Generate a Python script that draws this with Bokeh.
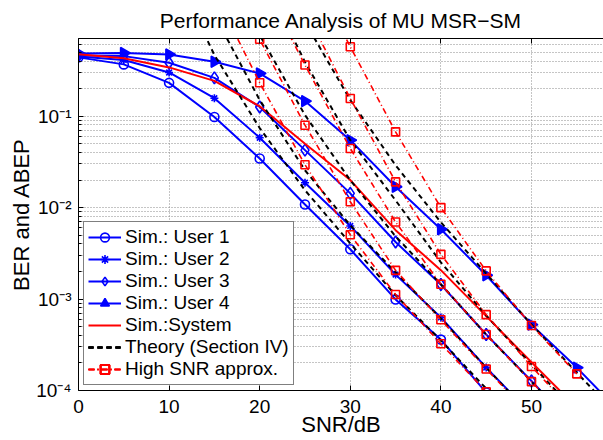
import math
from bokeh.plotting import figure
from bokeh.models import LinearAxis, FixedTicker, CustomJSTickFormatter
from bokeh.embed import file_html
from bokeh.resources import INLINE

# ---------------- data ----------------
user1_snr = [0, 5, 10, 15, 20, 25, 30, 35, 40, 45]
user1_ber = [0.439, 0.368, 0.231, 0.098, 0.0344, 0.0108, 0.0035, 0.00099, 0.00036, 0.000095]

user2_snr = [0, 5, 10, 15, 20, 25, 30, 35, 40, 45, 50]
user2_ber = [0.45, 0.41, 0.30, 0.157, 0.058, 0.0187, 0.0063, 0.00185, 0.00063, 0.000178, 0.000055]

user3_snr = [0, 5, 10, 15, 20, 25, 30, 35, 40, 45, 50, 55]
user3_ber = [0.46, 0.453, 0.383, 0.262, 0.126, 0.0425, 0.0143, 0.0042, 0.00144, 0.00041, 0.000127, 0.000038]

user4_snr = [0, 5, 10, 15, 20, 25, 30, 35, 40, 45, 50, 55, 60]
user4_ber = [0.485, 0.49, 0.473, 0.393, 0.293, 0.146, 0.0546, 0.0169, 0.0058, 0.00182, 0.000525, 0.000178, 0.000055]

system_snr = [0, 5, 10, 15, 20, 25, 30, 35, 40, 45, 50, 55]
system_ber = [0.476, 0.43, 0.341, 0.243, 0.128, 0.050, 0.020, 0.00566, 0.00207, 0.00065, 0.000204, 0.000065]

# theory (Section IV)
th_u1_snr = [10, 15, 20, 25, 30, 35, 40, 45]
th_u1 = [5.12, 0.466, 0.074, 0.0155, 0.00406, 0.0011, 0.000352, 0.000105]
th_u2_snr = [15, 20, 25, 30, 35, 40, 45, 50]
th_u2 = [1.28, 0.150, 0.0256, 0.0064, 0.00196, 0.000613, 0.000178, 0.000053]
th_u3_snr = [15, 20, 25, 30, 35, 40, 45, 50, 55]
th_u3 = [6.6, 0.771, 0.1026, 0.0199, 0.00485, 0.00145, 0.000409, 0.000125, 0.000038]
th_sys_snr = [20, 25, 30, 35, 40, 45, 50, 55]
th_sys = [3.97, 0.390, 0.0546, 0.0120, 0.00252, 0.000661, 0.000192, 0.000057]
th_u4_snr = [25, 30, 35, 40, 45, 50, 55, 60]
th_u4 = [1.07, 0.150, 0.029, 0.0069, 0.0019, 0.000527, 0.000157, 0.000047]

# high SNR approximation
ap_u1_snr = [15, 20, 25, 30, 35, 40, 45]
ap_u1 = [2.24, 0.232, 0.0294, 0.00504, 0.00112, 0.000324, 0.000097]
ap_u2_snr = [15, 20, 25, 30, 35, 40, 45, 50]
ap_u2 = [6.7, 0.692, 0.0796, 0.0116, 0.00206, 0.000593, 0.000172, 0.000052]
ap_u3_snr = [20, 25, 30, 35, 40, 45, 50, 55]
ap_u3 = [3.33, 0.362, 0.0443, 0.00695, 0.00145, 0.000409, 0.000125, 0.000038]
ap_sys_snr = [25, 30, 35, 40, 45, 50, 55]
ap_sys = [1.44, 0.156, 0.0191, 0.00308, 0.000675, 0.000183, 0.000054]
ap_u4_snr = [25, 30, 35, 40, 45, 50, 55]
ap_u4 = [5.28, 0.574, 0.0673, 0.010, 0.00203, 0.000514, 0.000152]

x_ticks = [0, 10, 20, 30, 40, 50]
y_ticks = [1e-4, 1e-3, 1e-2, 1e-1]

title_text = "Performance Analysis of MU MSR\u2212SM"
x_label = "SNR/dB"
y_label = "BER and ABEP"

FONT = "Liberation Sans"
BLUE = "#0000ff"
RED = "#ff0000"

# ---------------- figure ----------------
p = figure(width=603, height=440, x_range=(0, 57.95), y_range=(1e-4, 0.706),
           y_axis_type="log", output_backend="svg", toolbar_location=None,
           min_border_left=78, min_border_right=0, min_border_top=38, min_border_bottom=50)
p.outline_line_color = None
p.background_fill_color = "white"

p.title.text = title_text
p.title.align = "center"
p.title.vertical_align = "top"
p.title.text_font = FONT
p.title.text_font_size = "21px"
p.title.text_font_style = "normal"
p.title.text_color = "black"
p.title.text_line_height = 1.0

minor = [m * 10.0 ** e for e in range(-4, 0) for m in range(2, 10)]
yticker = FixedTicker(ticks=y_ticks, minor_ticks=minor)
xticker = FixedTicker(ticks=x_ticks, minor_ticks=[])

p.xaxis.ticker = xticker
p.yaxis.ticker = yticker
p.xgrid.ticker = xticker
p.ygrid.ticker = yticker

p.yaxis.formatter = CustomJSTickFormatter(code="""
const sup = {"-": "\u207b", "0": "\u2070", "1": "\u00b9", "2": "\u00b2", "3": "\u00b3",
             "4": "\u2074", "5": "\u2075", "6": "\u2076", "7": "\u2077", "8": "\u2078", "9": "\u2079"};
const e = Math.round(Math.log10(tick));
return "10" + String(e).split("").map(c => sup[c]).join("");
""")

for ax in (p.xaxis[0], p.yaxis[0]):
    ax.major_tick_in = 5
    ax.major_tick_out = 0
    ax.minor_tick_in = 3
    ax.minor_tick_out = 0
    ax.axis_line_color = "black"
    ax.major_tick_line_color = "black"
    ax.minor_tick_line_color = "black"
    ax.major_label_text_font = FONT
    ax.major_label_text_font_size = "19px"
    ax.major_label_text_color = "black"
    ax.axis_label_text_font = FONT
    ax.axis_label_text_font_size = "22px"
    ax.axis_label_text_font_style = "normal"
    ax.axis_label_text_color = "black"

p.xaxis.axis_label = x_label
p.yaxis.axis_label = y_label
p.xaxis.major_label_standoff = 9
p.xaxis.axis_label_standoff = -4
p.yaxis.major_label_standoff = 7
p.yaxis.axis_label_standoff = -1

top = LinearAxis(ticker=xticker, major_label_text_font_size="0px", major_tick_in=5,
                 major_tick_out=0, minor_tick_in=0, minor_tick_out=0,
                 axis_line_color="black", major_tick_line_color="black")
top.major_label_text_alpha = 0
p.add_layout(top, "above")

for g in (p.xgrid[0], p.ygrid[0]):
    g.grid_line_color = "#8a8a8a"
    g.grid_line_dash = "1 2"
    g.grid_line_width = 1
p.ygrid.minor_grid_line_color = "#8a8a8a"
p.ygrid.minor_grid_line_dash = "1 2"

# ---------------- simulated ----------------
LW = 2
p.line(user1_snr, user1_ber, color=BLUE, line_width=LW, legend_label="Sim.: User 1")
p.scatter(user1_snr, user1_ber, marker="circle", size=9, line_color=BLUE, fill_color=None,
          line_width=1.6, legend_label="Sim.: User 1")

p.line(user2_snr, user2_ber, color=BLUE, line_width=LW, legend_label="Sim.: User 2")
p.scatter(user2_snr, user2_ber, marker="asterisk", size=8, line_color=BLUE,
          line_width=1.6, legend_label="Sim.: User 2")

p.line(user3_snr, user3_ber, color=BLUE, line_width=LW, legend_label="Sim.: User 3")
p.scatter(user3_snr, user3_ber, marker="diamond", size=12, line_color=BLUE, fill_color=None,
          line_width=1.6, legend_label="Sim.: User 3")

p.line(user4_snr, user4_ber, color=BLUE, line_width=LW, legend_label="Sim.: User 4")
p.scatter(user4_snr, user4_ber, marker="triangle", size=11, angle=-math.pi / 2,
          line_color=BLUE, fill_color=BLUE, line_width=1.6, legend_label="Sim.: User 4")

p.line(system_snr, system_ber, color=RED, line_width=LW, legend_label="Sim.:System")

# ---------------- theory ----------------
for xs, ys in ((th_u1_snr, th_u1), (th_u2_snr, th_u2), (th_u3_snr, th_u3),
               (th_sys_snr, th_sys), (th_u4_snr, th_u4)):
    p.line(xs, ys, color="black", line_width=2, line_dash="5 4",
           legend_label="Theory (Section IV)")

# ---------------- high SNR approx ----------------
for xs, ys in ((ap_u1_snr, ap_u1), (ap_u2_snr, ap_u2), (ap_u3_snr, ap_u3),
               (ap_sys_snr, ap_sys), (ap_u4_snr, ap_u4)):
    p.line(xs, ys, color=RED, line_width=1.6, line_dash="6 3 1 3",
           legend_label="High SNR approx.")
    p.scatter(xs, ys, marker="square", size=8, line_color=RED, fill_color=None,
              line_width=1.6, legend_label="High SNR approx.")

leg = p.legend[0]
leg.location = (5, 5)
leg.border_line_color = "black"
leg.border_line_width = 1
leg.background_fill_color = "white"
leg.background_fill_alpha = 1
leg.label_text_font = FONT
leg.label_text_font_size = "19px"
leg.label_text_color = "black"
leg.glyph_width = 33
leg.glyph_height = 22
leg.label_height = 22
leg.label_standoff = 4
leg.spacing = 0
leg.padding = 4
leg.margin = 0

open("out.html", "w").write(file_html(p, INLINE))
